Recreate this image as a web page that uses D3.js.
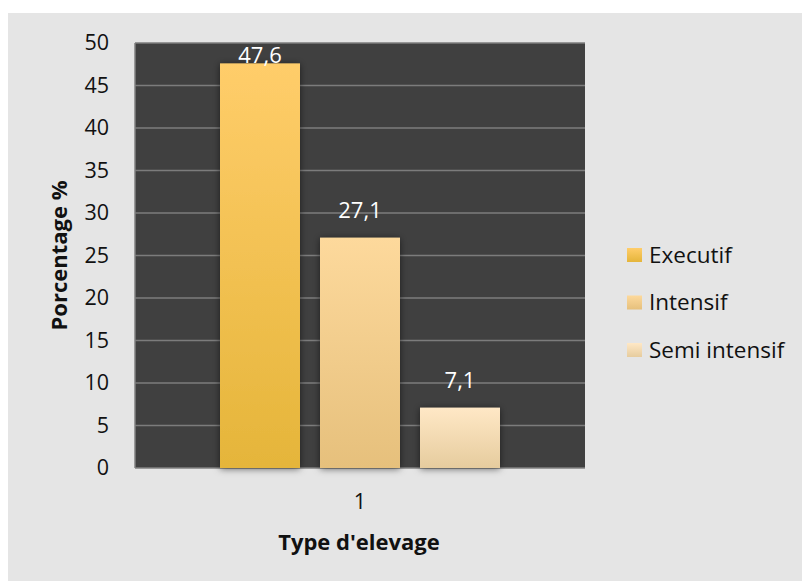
<!DOCTYPE html>
<html>
<head>
<meta charset="utf-8">
<script src="https://cdn.jsdelivr.net/npm/d3@7"></script>
<style>
  html, body { margin: 0; padding: 0; background: #ffffff; }
  svg { display: block; }
  text { font-family: "Open Sans", "DejaVu Sans", sans-serif; }
</style>
</head>
<body>
<svg id="chart" width="802" height="581"></svg>
<script>
// Breeding type shares (%)
const categories = ["1"];
const seriesNames = ["Executif", "Intensif", "Semi intensif"];
const seriesValues = [47.6, 27.1, 7.1];
const valueLabels = ["47,6", "27,1", "7,1"];
const yTicks = [0, 5, 10, 15, 20, 25, 30, 35, 40, 45, 50];

// Gradient stops per series (top, bottom)
const seriesGradients = [
  ["#ffcd6a", "#e5b53a"],
  ["#fdd99c", "#e6c07c"],
  ["#ffe8c6", "#e6cc9e"]
];

const svg = d3.select("#chart");
const plot = { left: 135, top: 43, right: 585, bottom: 468 };

// Outer panel
svg.append("rect")
  .attr("x", 8).attr("y", 13)
  .attr("width", 802 - 8).attr("height", 581 - 13)
  .attr("fill", "#e5e5e5");

const defs = svg.append("defs");
seriesGradients.forEach((g, i) => {
  const lg = defs.append("linearGradient")
    .attr("id", "grad" + i)
    .attr("x1", 0).attr("y1", 0).attr("x2", 0).attr("y2", 1);
  lg.append("stop").attr("offset", "0%").attr("stop-color", g[0]);
  lg.append("stop").attr("offset", "100%").attr("stop-color", g[1]);
});
const shadow = defs.append("filter").attr("id", "barShadow")
  .attr("x", "-30%").attr("y", "-30%").attr("width", "160%").attr("height", "160%");
shadow.append("feDropShadow")
  .attr("dx", 0).attr("dy", 1).attr("stdDeviation", 3.5)
  .attr("flood-color", "#000").attr("flood-opacity", 0.55);

const y = d3.scaleLinear().domain([0, 50]).range([plot.bottom, plot.top]);
const x0 = d3.scaleBand().domain(categories).range([plot.left, plot.right]).paddingInner(0).paddingOuter(0);
const x1 = d3.scaleBand().domain(seriesNames).range([0, 280]).paddingInner(0.2).paddingOuter(0);
const groupOffset = (x0.bandwidth() - 280) / 2;

// Plot background
svg.append("rect")
  .attr("x", plot.left).attr("y", plot.top)
  .attr("width", plot.right - plot.left).attr("height", plot.bottom - plot.top)
  .attr("fill", "#404040");

// Gridlines
svg.append("g")
  .selectAll("line")
  .data(yTicks.filter(t => t > 0))
  .join("line")
  .attr("x1", plot.left).attr("x2", plot.right)
  .attr("y1", d => y(d)).attr("y2", d => y(d))
  .attr("stroke", "#7c7c7c").attr("stroke-width", 1.5);

// Plot frame: left and bottom axes lines
svg.append("line")
  .attr("x1", plot.left).attr("x2", plot.left)
  .attr("y1", plot.top).attr("y2", plot.bottom)
  .attr("stroke", "#808080").attr("stroke-width", 1.5);
svg.append("line")
  .attr("x1", plot.left).attr("x2", plot.right)
  .attr("y1", plot.bottom).attr("y2", plot.bottom)
  .attr("stroke", "#808080").attr("stroke-width", 1.5);

// Y axis
const yAxis = d3.axisLeft(y).tickValues(yTicks).tickSize(0).tickPadding(0);
const yg = svg.append("g").attr("transform", `translate(${plot.left - 26},0)`).call(yAxis);
yg.select(".domain").remove();
yg.selectAll("text")
  .attr("font-size", 21.5).attr("fill", "#111")
  .attr("font-family", "'Open Sans', sans-serif");

// X axis
const xAxis = d3.axisBottom(x0).tickSize(0).tickPadding(0);
const xg = svg.append("g").attr("transform", `translate(0,${plot.bottom + 26})`).call(xAxis);
xg.select(".domain").remove();
xg.selectAll("text")
  .attr("font-size", 21.5).attr("fill", "#111")
  .attr("font-family", "'Open Sans', sans-serif");

// Bars
const bars = categories.map(c => seriesNames.map((s, i) => ({ cat: c, name: s, value: seriesValues[i], label: valueLabels[i], i })));
const grp = svg.append("g").selectAll("g")
  .data(bars)
  .join("g")
  .attr("transform", (d, i) => `translate(${x0(categories[i]) + groupOffset},0)`);

grp.selectAll("rect")
  .data(d => d)
  .join("rect")
  .attr("x", d => x1(d.name))
  .attr("y", d => y(d.value))
  .attr("width", x1.bandwidth())
  .attr("height", d => y(0) - y(d.value))
  .attr("fill", d => `url(#grad${d.i})`)
  .attr("filter", "url(#barShadow)");

// Value labels
grp.selectAll("text.val")
  .data(d => d)
  .join("text")
  .attr("class", "val")
  .attr("x", d => x1(d.name) + x1.bandwidth() / 2)
  .attr("y", d => Math.max(y(d.value) - 20, plot.top + 20))
  .attr("text-anchor", "middle")
  .attr("font-size", 22)
  .attr("fill", "#ffffff")
  .text(d => d.label);

// Axis titles
svg.append("text")
  .attr("transform", `translate(67,${(plot.top + plot.bottom) / 2}) rotate(-90)`)
  .attr("text-anchor", "middle")
  .attr("font-size", 22).attr("font-weight", "bold").attr("fill", "#111")
  .text("Porcentage %");

svg.append("text")
  .attr("x", 359).attr("y", 550)
  .attr("text-anchor", "middle")
  .attr("font-size", 22).attr("font-weight", "bold").attr("fill", "#111")
  .text("Type d'elevage");

// Legend
const legend = svg.append("g").attr("transform", "translate(627,255)");
const li = legend.selectAll("g")
  .data(seriesNames)
  .join("g")
  .attr("transform", (d, i) => `translate(0,${i * 47.5})`);
li.append("rect")
  .attr("x", 0).attr("y", -7)
  .attr("width", 15).attr("height", 14)
  .attr("fill", (d, i) => `url(#grad${i})`);
li.append("text")
  .attr("x", 22).attr("y", 0)
  .attr("dy", "0.35em")
  .attr("font-size", 22.5).attr("fill", "#111")
  .text(d => d);
</script>
</body>
</html>
